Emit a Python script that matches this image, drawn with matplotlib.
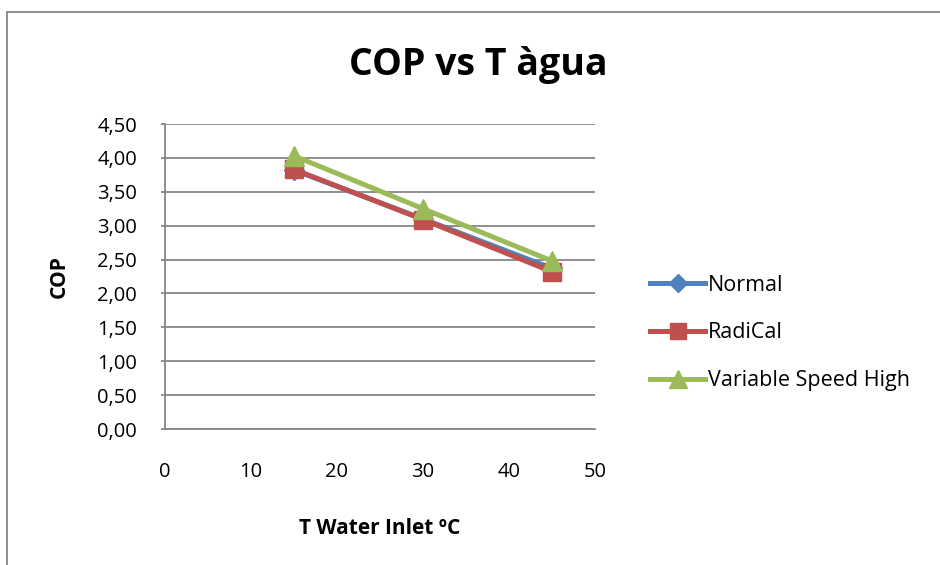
import matplotlib.pyplot as plt
from matplotlib.patches import Rectangle
from matplotlib.ticker import FuncFormatter, MultipleLocator

# temperatura d'entrada de l'aigua (ºC) i COP per a cada configuració
t_water = [15, 30, 45]
cop_normal = [3.82, 3.10, 2.37]
cop_radical = [3.83, 3.09, 2.32]
cop_var_high = [4.03, 3.25, 2.48]

series_names = ["Normal", "RadiCal", "Variable Speed High"]

plt.rcParams['font.family'] = ['Open Sans', 'DejaVu Sans']

fig = plt.figure(figsize=(9.4, 5.65), dpi=100)
ax = fig.add_axes([165 / 940, 1 - 429 / 565, 430 / 940, 305 / 565])

# marc del gràfic
fig.patches.append(Rectangle((7 / 940, -0.1), 1.2, 1.1 - 12.5 / 565,
                             transform=fig.transFigure, fill=False,
                             edgecolor='#868686', linewidth=1.3))

ax.plot(t_water, cop_normal, color='#4F81BD', lw=3.6, marker='D',
        markersize=10, label=series_names[0], zorder=3)
ax.plot(t_water, cop_radical, color='#C0504D', lw=3.6, marker='s',
        markersize=13.5, label=series_names[1], zorder=4)
ax.plot(t_water, cop_var_high, color='#9BBB59', lw=3.6, marker='^',
        markersize=14, label=series_names[2], zorder=5)

ax.set_xlim(0, 50)
ax.set_ylim(0, 4.5)
ax.xaxis.set_major_locator(MultipleLocator(10))
ax.yaxis.set_major_locator(MultipleLocator(0.5))
ax.yaxis.set_major_formatter(FuncFormatter(lambda v, p: f"{v:.2f}".replace('.', ',')))

ax.grid(axis='y', color='#868686', lw=1.3)
ax.set_axisbelow(True)
for s in ('top', 'right'):
    ax.spines[s].set_visible(False)
for s in ('left', 'bottom'):
    ax.spines[s].set_color('#868686')
    ax.spines[s].set_linewidth(1.3)

ax.tick_params(axis='y', length=3, color='#868686', width=1.3, pad=17, labelsize=14.5)
ax.tick_params(axis='x', length=0, pad=24, labelsize=14.5)

fig.text(478 / 940, 1 - 65 / 565, "COP vs T àgua", fontsize=27,
         fontweight='bold', ha='center', va='center')
ax.set_xlabel("T Water Inlet ºC", fontsize=15, fontweight='bold', labelpad=26)
ax.set_ylabel("COP", fontsize=15, fontweight='bold', labelpad=20)

ax.legend(loc='center left', bbox_to_anchor=(631 / 940, 1 - 333 / 565),
          bbox_transform=fig.transFigure, frameon=False, fontsize=15.5,
          handlelength=2.55, handletextpad=0.12, labelspacing=1.25,
          markerscale=0.9)

fig.savefig("out.png", dpi=100)
